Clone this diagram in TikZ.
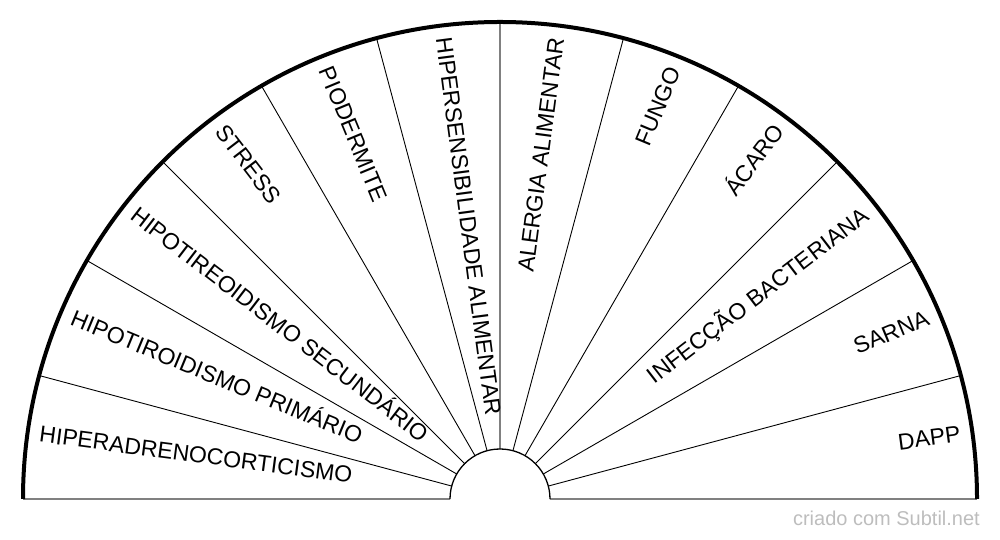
\documentclass[tikz,border=0pt]{standalone}
\usepackage{fontspec}
\setmainfont{Liberation Sans}
\definecolor{wmgray}{HTML}{BDBDBD}
\definecolor{axisgray}{HTML}{808080}
\tikzset{
  lbl/.style={inner sep=0pt, font=\fontsize{23}{27}\selectfont, text height=0.716em, text depth=0pt},
  lblL/.style={lbl, anchor=west},
  lblR/.style={lbl, anchor=east},
  spoke/.style={draw=black, line width=0.9pt},
  axis/.style={draw=axisgray, line width=1.8pt},
  rim/.style={draw=black, line width=4pt},
  hub/.style={draw=black, line width=1.3pt},
  wm/.style={inner sep=0pt, anchor=base east, text=wmgray, font=\fontsize{20}{23}\selectfont}
}
\begin{document}
\begin{tikzpicture}[x=1pt,y=1pt]
\useasboundingbox (0,0) rectangle (1000,540);
\coordinate (C) at (500,41);
% baseline
\draw[axis] ([shift={(180:477)}]C) -- ([shift={(180:50)}]C);
\draw[axis] ([shift={(0:50)}]C) -- ([shift={(0:477)}]C);
% vertical middle spoke
\draw[axis] ([shift={(90:50)}]C) -- ([shift={(90:477)}]C);
% spokes
\foreach \a in {15,30,45,60,75,105,120,135,150,165}{
  \draw[spoke] ([shift={(\a:50)}]C) -- ([shift={(\a:477)}]C);
}
% hub
\draw[hub] ([shift={(0:50)}]C) arc[start angle=0, end angle=180, radius=50];
% rim
\draw[rim] ([shift={(0:477)}]C) arc[start angle=0, end angle=180, radius=477];
% labels left
\node[lblL, rotate=-7.5]  (l1) at ([shift={(172.5:465)}]C) {HIPERADRENOCORTICISMO};
\node[lblL, rotate=-22.5] (l2) at ([shift={(157.5:465)}]C) {HIPOTIROIDISMO PRIMÁRIO};
\node[lblL, rotate=-37.5] (l3) at ([shift={(142.5:465)}]C) {HIPOTIREOIDISMO SECUNDÁRIO};
\node[lblL, rotate=-52.5] (l4) at ([shift={(127.5:465)}]C) {STRESS};
\node[lblL, rotate=-67.5] (l5) at ([shift={(112.5:465)}]C) {PIODERMITE};
\node[lblL, rotate=-82.5] (l6) at ([shift={(97.5:465)}]C) {HIPERSENSIBILIDADE ALIMENTAR};
% labels right
\node[lblR, rotate=82.5] (l7)  at ([shift={(82.5:465)}]C) {ALERGIA ALIMENTAR};
\node[lblR, rotate=67.5] (l8)  at ([shift={(67.5:465)}]C) {FUNGO};
\node[lblR, rotate=52.5] (l9)  at ([shift={(52.5:465)}]C) {ÁCARO};
\node[lblR, rotate=37.5] (l10) at ([shift={(37.5:465)}]C) {INFECÇÃO BACTERIANA};
\node[lblR, rotate=22.5] (l11) at ([shift={(22.5:465)}]C) {SARNA};
\node[lblR, rotate=7.5]  (l12) at ([shift={(7.5:465)}]C) {DAPP};
% watermark
\node[wm] (wm) at (980,14) {criado com Subtil.net};
\end{tikzpicture}
\end{document}
